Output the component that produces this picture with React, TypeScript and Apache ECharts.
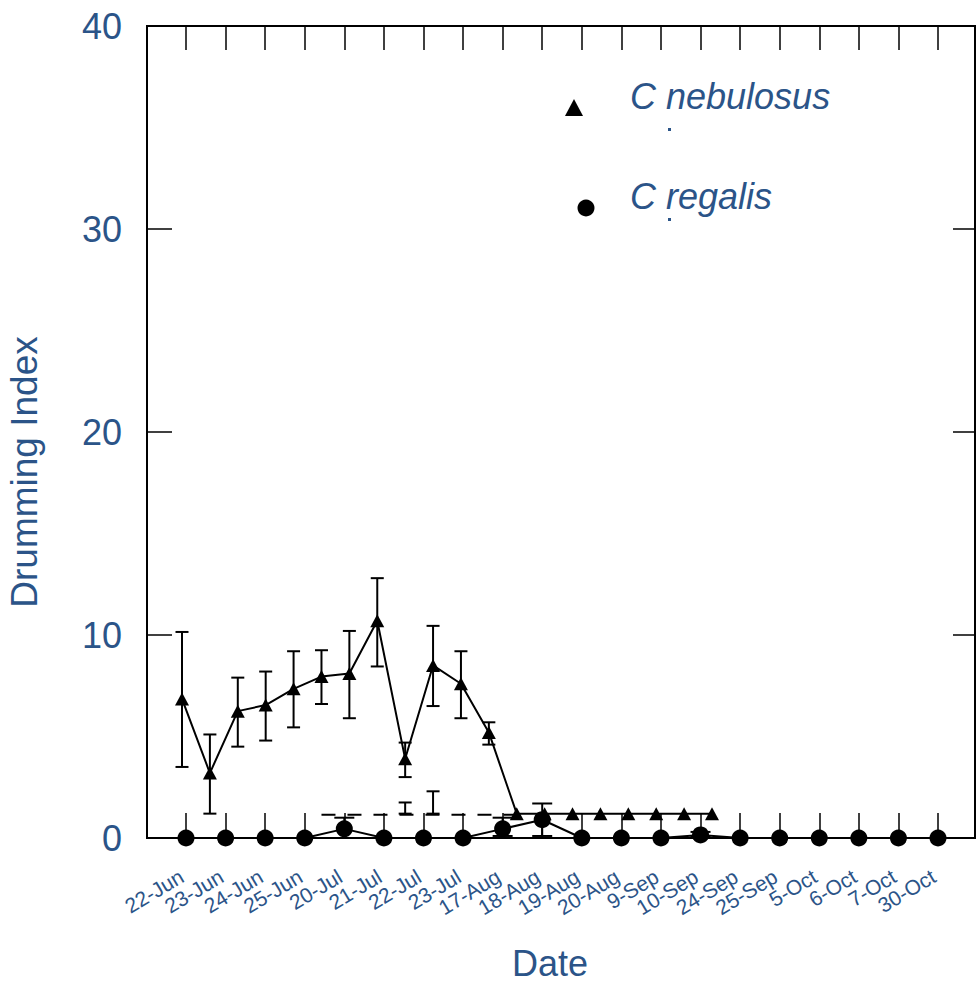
import React, { useEffect, useRef } from "react";
import * as echarts from "echarts";

const dates = ["22-Jun","23-Jun","24-Jun","25-Jun","20-Jul","21-Jul","22-Jul","23-Jul","17-Aug","18-Aug","19-Aug","20-Aug","9-Sep","10-Sep","24-Sep","25-Sep","5-Oct","6-Oct","7-Oct","30-Oct"];
const yTicks = [0, 10, 20, 30, 40];

const nebulosus = [6.85,3.2,6.25,6.55,7.35,7.95,8.1,10.7,3.9,8.5,7.6,5.2,1.2,1.2,1.2,1.2,1.2,1.2,1.2,1.2];
const nebulosusLow = [3.5,1.2,4.5,4.8,5.45,6.6,5.9,8.45,3.0,6.5,5.9,4.6,null,null,null,null,null,null,null,null];
const nebulosusHigh = [10.15,5.1,7.9,8.2,9.2,9.25,10.2,12.8,4.7,10.45,9.2,5.7,null,null,null,null,null,null,null,null];
// stray secondary bars near the baseline
const nebulosusExtraLow = [null,null,null,null,null,null,null,null,1.2,1.2,null,null,null,null,null,null,null,null,null,null];
const nebulosusExtraHigh = [null,null,null,null,null,null,null,null,1.75,2.3,null,null,null,null,null,null,null,null,null,null];
// dashed baseline segment
const nebulosusDash = [null,null,null,null,null,1.15,1.15,1.15,1.15,1.15,1.15,1.15,1.15,null,null,null,null,null,null,null];

const regalis = [0,0,0,0,0.45,0,0,0,0.45,0.9,0,0,0,0.15,0,0,0,0,0,0];
const regalisLow = [null,null,null,null,0.0,null,null,null,0.1,0.1,null,null,null,0.05,null,null,null,null,null,null];
const regalisHigh = [null,null,null,null,1.0,null,null,null,1.0,1.7,null,null,null,0.3,null,null,null,null,null,null];

const BLUE = "#2b5488";
const FONT = "'Liberation Sans', Arial, sans-serif";

function errData(low: (number | null)[], high: (number | null)[]) {
  const out: number[][] = [];
  low.forEach((l, i) => {
    const h = high[i];
    if (l !== null && h !== null) out.push([i, l, h]);
  });
  return out;
}

function errRender(capW: number) {
  return (params: any, api: any) => {
    const x = api.value(0);
    const lo = api.coord([x, api.value(1)]);
    const hi = api.coord([x, api.value(2)]);
    const hw = capW / 2;
    const style = { stroke: "#000", lineWidth: 2 };
    return {
      type: "group",
      children: [
        { type: "line", shape: { x1: hi[0], y1: hi[1], x2: lo[0], y2: lo[1] }, style },
        { type: "line", shape: { x1: hi[0] - hw, y1: hi[1], x2: hi[0] + hw, y2: hi[1] }, style },
        { type: "line", shape: { x1: lo[0] - hw, y1: lo[1], x2: lo[0] + hw, y2: lo[1] }, style },
      ],
    };
  };
}

export default function App() {
  const ref = useRef<HTMLDivElement>(null);
  useEffect(() => {
    if (!ref.current) return;
    const chart = echarts.init(ref.current, null, { renderer: "svg" });
    const hiddenY = (gi: number) => ({ gridIndex: gi, type: "value", min: 0, max: 40, show: false });
    chart.setOption({
      animation: false,
      backgroundColor: "#fff",
      textStyle: { fontFamily: FONT },
      grid: [
        { left: 147, top: 26, width: 828, height: 812, show: true, borderColor: "#000", borderWidth: 2, backgroundColor: "transparent" },
        { left: 186, top: 26, width: 752, height: 812 },
        { left: 182, top: 26, width: 530, height: 812 },
      ],
      xAxis: [
        { gridIndex: 0, type: "value", min: 0, max: 1, show: false },
        {
          gridIndex: 1, type: "category", data: dates, boundaryGap: false, position: "bottom",
          axisLine: { show: false },
          axisTick: { show: true, inside: true, length: 25, interval: 0, lineStyle: { color: "#000", width: 1.5 } },
          axisLabel: { interval: 0, rotate: 31, margin: 34, fontSize: 21, color: BLUE, fontFamily: FONT, padding: [0, 5, 0, 0] },
          splitLine: { show: false },
        },
        {
          gridIndex: 1, type: "category", data: dates, boundaryGap: false, position: "top",
          axisLine: { show: false },
          axisTick: { show: true, inside: true, length: 24, interval: 0, lineStyle: { color: "#000", width: 1.5 } },
          axisLabel: { show: false },
          splitLine: { show: false },
        },
        { gridIndex: 2, type: "category", data: dates, boundaryGap: false, show: false },
      ],
      yAxis: [
        {
          gridIndex: 0, type: "value", min: 0, max: 40, interval: 10, position: "left",
          axisLine: { show: false },
          axisTick: { show: true, inside: true, length: 25, lineStyle: { color: "#000", width: 1.5 } },
          axisLabel: { margin: 25, fontSize: 36, color: BLUE, fontFamily: FONT,
            formatter: (v: number) => (yTicks.includes(v) ? String(v) : "") },
          splitLine: { show: false },
        },
        {
          gridIndex: 0, type: "value", min: 0, max: 40, interval: 10, position: "right",
          axisLine: { show: false },
          axisTick: { show: true, inside: true, length: 22, lineStyle: { color: "#000", width: 1.5 } },
          axisLabel: { show: false },
          splitLine: { show: false },
        },
        hiddenY(1),
        hiddenY(2),
      ],
      series: [
        {
          type: "custom", name: "nebulosus error", xAxisIndex: 3, yAxisIndex: 3, z: 1,
          renderItem: errRender(13), encode: { x: 0, y: [1, 2] },
          data: errData(nebulosusLow, nebulosusHigh), silent: true,
        },
        {
          type: "custom", name: "nebulosus extra", xAxisIndex: 3, yAxisIndex: 3, z: 1,
          renderItem: errRender(13), encode: { x: 0, y: [1, 2] },
          data: errData(nebulosusExtraLow, nebulosusExtraHigh), silent: true,
        },
        {
          type: "line", name: "dash", xAxisIndex: 3, yAxisIndex: 3, z: 1,
          data: nebulosusDash, symbol: "none", connectNulls: false,
          lineStyle: { color: "#000", width: 2, type: [14, 12] },
        },
        {
          type: "custom", name: "regalis error", xAxisIndex: 1, yAxisIndex: 2, z: 1,
          renderItem: errRender(20), encode: { x: 0, y: [1, 2] },
          data: errData(regalisLow, regalisHigh), silent: true,
        },
        {
          type: "line", name: "C nebulosus", xAxisIndex: 3, yAxisIndex: 3, z: 3,
          data: nebulosus, symbol: "triangle", symbolSize: [14, 13],
          itemStyle: { color: "#000" }, lineStyle: { color: "#000", width: 2 },
        },
        {
          type: "line", name: "C regalis", xAxisIndex: 1, yAxisIndex: 2, z: 3,
          data: regalis, symbol: "circle", symbolSize: 17,
          itemStyle: { color: "#000" }, lineStyle: { color: "#000", width: 2 },
        },
      ],
      graphic: [
        { type: "polygon", shape: { points: [[574, 99], [583, 116], [565, 116]] }, style: { fill: "#000" } },
        { type: "text", left: 630, top: 78, style: { text: "C nebulosus", font: `italic 36px ${FONT}`, fill: BLUE } },
        { type: "rect", shape: { x: 668, y: 128, width: 3, height: 3 }, style: { fill: BLUE } },
        { type: "circle", shape: { cx: 586, cy: 208, r: 8.5 }, style: { fill: "#000" } },
        { type: "text", left: 630, top: 178, style: { text: "C regalis", font: `italic 36px ${FONT}`, fill: BLUE } },
        { type: "rect", shape: { x: 668, y: 218, width: 3, height: 3 }, style: { fill: BLUE } },
        { type: "text", x: 24, y: 472, rotation: Math.PI / 2,
          style: { text: "Drumming Index", font: `37px ${FONT}`, fill: BLUE, align: "center", verticalAlign: "middle" } },
        { type: "text", x: 550, y: 963,
          style: { text: "Date", font: `36px ${FONT}`, fill: BLUE, align: "center", verticalAlign: "middle" } },
      ],
    });
    return () => chart.dispose();
  }, []);
  return <div ref={ref} style={{ position: "fixed", left: 0, top: 0, width: 979, height: 987 }} />;
}
